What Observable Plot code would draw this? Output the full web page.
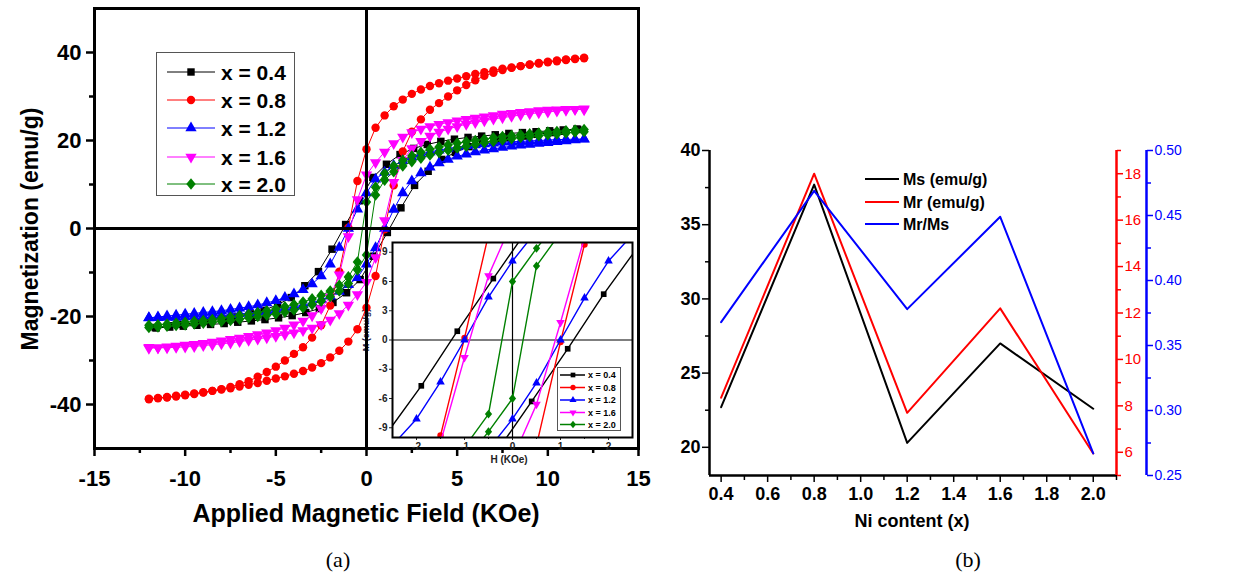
<!DOCTYPE html>
<html><head><meta charset="utf-8">
<script src="https://cdn.jsdelivr.net/npm/d3@7"></script>
<script src="https://cdn.jsdelivr.net/npm/@observablehq/plot@0.6"></script>
<style>
body{margin:0;background:#fff;}
#fig{position:relative;width:1255px;height:576px;overflow:hidden;background:#fff;font-family:Arial,"Liberation Sans",sans-serif;}
.abs{position:absolute;}
.abs svg{display:block;overflow:visible;max-width:none;}
</style></head><body><div id="fig"></div>
<script>
// ---------- Panel (a): descending branches (H from +12 to -12) ----------
const H_GRID = [12,11.5,11,10.5,10,9.5,9,8.5,8,7.5,7,6.5,6,5.5,5,4.5,4,3.5,3,2.5,2,1.5,1,0.5,0,-0.5,-1,-1.5,-2,-2.5,-3,-3.5,-4,-4.5,-5,-5.5,-6,-6.5,-7,-7.5,-8,-8.5,-9,-9.5,-10,-10.5,-11,-11.5,-12];
const H_X04 = [11.6,10.85,10.1,9.35,8.6,7.85,7.1,6.35,5.6,4.85,4.1,3.35,2.6,1.85,1.1,0.35,-0.4,-1.15,-1.9,-2.65,-3.4,-4.15,-4.9,-5.65,-6.4,-7.15,-7.9,-8.65,-9.4,-10.15,-10.9,-11.65];
const M_X04 = [22.6,22.4,22.2,22.0,21.8,21.6,21.3,21.0,20.7,20.3,19.8,19.1,18.2,16.8,14.6,11.6,6.3,0.9,-4.7,-9.8,-13.0,-15.7,-17.3,-18.6,-19.4,-20.1,-20.6,-21.0,-21.4,-21.8,-22.1,-22.5];
const M_X08 = [38.7,38.5,38.3,38.0,37.8,37.5,37.2,36.9,36.6,36.3,35.9,35.5,35.1,34.6,34.1,33.6,33.0,32.4,31.6,30.6,29.3,27.8,25.7,22.9,18.0,10.8,0.2,-9.8,-17.5,-22.0,-24.8,-27.0,-28.5,-30.0,-31.4,-32.6,-33.7,-34.7,-35.4,-36.0,-36.5,-36.9,-37.3,-37.6,-37.9,-38.2,-38.4,-38.6,-38.8];
const M_X12 = [20.35,20.3,20.25,20.2,20.1,20.0,19.9,19.8,19.7,19.6,19.4,19.2,19.0,18.8,18.5,18.2,17.8,17.4,16.9,16.2,15.4,14.3,12.8,11.2,8.1,4.4,0.0,-4.3,-8.1,-10.8,-12.6,-13.9,-14.9,-15.7,-16.4,-16.9,-17.4,-17.8,-18.1,-18.4,-18.7,-18.9,-19.1,-19.3,-19.5,-19.7,-19.9,-20.1,-20.3];
const M_X16 = [27.0,27.1,27.1,27.0,26.9,26.8,26.6,26.4,26.2,26.0,25.7,25.4,25.1,24.8,24.5,24.1,23.7,23.2,22.6,21.8,20.8,19.3,17.4,15.0,12.2,6.6,-1.8,-10.5,-15.5,-18.2,-19.8,-21.0,-21.9,-22.6,-23.2,-23.7,-24.1,-24.5,-24.9,-25.2,-25.5,-25.8,-26.1,-26.3,-26.5,-26.7,-26.9,-27.1,-27.2];
const M_X20 = [22.5,22.35,22.2,22.05,21.9,21.7,21.5,21.3,21.1,20.9,20.6,20.3,20.0,19.7,19.4,19.0,18.5,18.0,17.3,16.5,15.5,14.2,12.5,9.4,6.0,-7.6,-11.0,-12.9,-14.2,-15.2,-16.0,-16.7,-17.3,-17.8,-18.3,-18.7,-19.1,-19.5,-19.8,-20.1,-20.4,-20.7,-20.9,-21.1,-21.3,-21.5,-21.7,-21.9,-22.0];

const SERIES_LABELS = ["x = 0.4", "x = 0.8", "x = 1.2", "x = 1.6", "x = 2.0"];
const SERIES_COLORS = ["#000000", "#ff0000", "#0000ff", "#ff00ff", "#008000"];

const MAIN_X_TICKS = [-15,-10,-5,0,5,10,15];
const MAIN_X_MINOR = [-12.5,-7.5,-2.5,2.5,7.5,12.5];
const MAIN_Y_TICKS = [-40,-20,0,20,40];
const MAIN_Y_MINOR = [-30,-10,10,30];
const INSET_X_TICKS = [-2,-1,0,1,2];
const INSET_X_MINOR = [-1.5,-0.5,0.5,1.5];
const INSET_Y_TICKS = [-9,-6,-3,0,3,6,9];

// ---------- Panel (b) ----------
const NI_CONTENT = [0.4, 0.8, 1.2, 1.6, 2.0];
const MS_VALUES = [22.7, 37.7, 20.3, 27.0, 22.6];
const MR_VALUES = [8.35, 18.0, 7.7, 12.2, 5.95];
const MR_MS_RATIO = [0.368, 0.469, 0.378, 0.449, 0.267];
const B_LEGEND = ["Ms (emu/g)", "Mr (emu/g)", "Mr/Ms"];
const B_X_TICKS = [0.4,0.6,0.8,1.0,1.2,1.4,1.6,1.8,2.0];
const B_X_MINOR = [0.5,0.7,0.9,1.1,1.3,1.5,1.7,1.9,2.1];
const MS_TICKS = [20,25,30,35,40];
const MS_MINOR = [22.5,27.5,32.5,37.5];
const MR_TICKS = [6,8,10,12,14,16,18];
const MR_MINOR = [5,7,9,11,13,15,17,19];
const RATIO_TICKS = [0.25,0.30,0.35,0.40,0.45,0.50];
const RATIO_MINOR = [0.275,0.325,0.375,0.425,0.475];

// ---------- symbols ----------
const sqrt3 = Math.sqrt(3);
const triangleDown = {draw(ctx, size) {
  const y = -Math.sqrt(size / (sqrt3 * 3));
  ctx.moveTo(0, -y * 2); ctx.lineTo(-sqrt3 * y, y); ctx.lineTo(sqrt3 * y, y); ctx.closePath();
}};
const diamondWide = {draw(ctx, size) {
  const a = Math.sqrt(size / 2);
  ctx.moveTo(0, -a * 1.1); ctx.lineTo(a * 0.9, 0); ctx.lineTo(0, a * 1.1); ctx.lineTo(-a * 0.9, 0); ctx.closePath();
}};
const SERIES_SYMBOLS = [d3.symbolSquare, d3.symbolCircle, d3.symbolTriangle, triangleDown, diamondWide];

const branchesH = [H_X04, H_GRID, H_GRID, H_GRID, H_GRID];
const branchesM = [M_X04, M_X08, M_X12, M_X16, M_X20];
function loopRows(i) {
  const H = branchesH[i], M = branchesM[i], rows = [];
  H.forEach((h, k) => rows.push({H: h, M: M[k], branch: "down"}));
  H.forEach((h, k) => rows.push({H: -h, M: -M[k], branch: "up"}));
  return rows;
}
const LOOPS = SERIES_LABELS.map((_, i) => loopRows(i));

const fig = document.getElementById("fig");
function place(node, left, top) {
  const d = document.createElement("div");
  d.className = "abs"; d.style.left = left + "px"; d.style.top = top + "px";
  d.appendChild(node); fig.appendChild(d); return d;
}
function textDiv(txt, left, top, css) {
  const d = document.createElement("div");
  d.className = "abs"; d.textContent = txt;
  d.style.cssText += `left:${left}px;top:${top}px;white-space:nowrap;` + css;
  fig.appendChild(d); return d;
}
const FONT = "Arial, 'Liberation Sans', sans-serif";
const fmtHyphen = d => String(d);

// inset y label (under the main chart so the zero line crosses it)
textDiv("M (emu/g)", 366, 330, "transform:translate(-50%,-50%) rotate(-90deg);font:bold 9px Arial,'Liberation Sans',sans-serif;color:#1a1a4a;");

// ---------- main chart (a) ----------
const seriesMarks = (r, sw, clip) => LOOPS.flatMap((rows, i) => [
  Plot.line(rows, {x: "H", y: "M", z: "branch", stroke: SERIES_COLORS[i], strokeWidth: sw, clip}),
  Plot.dot(rows, {x: "H", y: "M", symbol: SERIES_SYMBOLS[i], fill: SERIES_COLORS[i], r, clip})
]);

const main = Plot.plot({
  width: 660, height: 540,
  marginLeft: 94, marginRight: 22, marginTop: 8, marginBottom: 92,
  x: {domain: [-15, 15]}, y: {domain: [-50, 50]},
  style: {fontFamily: FONT, fontWeight: "bold", fontSize: "22px", background: "transparent", color: "black", overflow: "visible"},
  marks: [
    Plot.axisX({ticks: MAIN_X_TICKS, tickSize: 8, tickPadding: 14, strokeWidth: 2.5, tickFormat: fmtHyphen, label: null}),
    Plot.axisX({ticks: MAIN_X_MINOR, tickSize: 5, strokeWidth: 2.5, tickFormat: () => "", label: null}),
    Plot.axisY({ticks: MAIN_Y_TICKS, tickSize: 8, tickPadding: 5, strokeWidth: 2.5, tickFormat: fmtHyphen, label: null}),
    Plot.axisY({ticks: MAIN_Y_MINOR, tickSize: 5, strokeWidth: 2.5, tickFormat: () => "", label: null}),
    ...seriesMarks(4.2, 1, false),
    Plot.ruleY([0], {strokeWidth: 3}),
    Plot.ruleX([0], {strokeWidth: 3}),
    Plot.frame({strokeWidth: 3})
  ]
});
place(main, 0, 0);

textDiv("Magnetization (emu/g)", 30, 229, "transform:translate(-50%,-50%) rotate(-90deg);font:bold 23px Arial,'Liberation Sans',sans-serif;");
textDiv("Applied Magnetic Field (KOe)", 366, 513, "transform:translate(-50%,-50%);font:bold 25px Arial,'Liberation Sans',sans-serif;");

// ---------- inset ----------
const inset = Plot.plot({
  width: 285, height: 230,
  marginLeft: 32, marginRight: 13, marginTop: 12, marginBottom: 23,
  x: {domain: [-2.5, 2.5]}, y: {domain: [-10, 10]},
  style: {fontFamily: FONT, fontWeight: "bold", fontSize: "10px", background: "transparent", color: "#222", overflow: "visible"},
  marks: [
    Plot.frame({fill: "white", stroke: null}),
    Plot.axisX({ticks: INSET_X_TICKS, tickSize: 3, tickPadding: 2, tickFormat: fmtHyphen, label: null}),
    Plot.axisX({ticks: INSET_X_MINOR, tickSize: 2, tickFormat: () => "", label: null}),
    Plot.axisY({ticks: INSET_Y_TICKS, tickSize: 3, tickPadding: 2, tickFormat: fmtHyphen, label: null}),
    Plot.ruleY([0], {stroke: "black", strokeWidth: 1.2}),
    Plot.ruleX([0], {stroke: "black", strokeWidth: 1.2}),
    ...seriesMarks(3.2, 1.4, true),
    Plot.frame({stroke: "black", strokeWidth: 2})
  ]
});
place(inset, 360, 230);
textDiv("H (KOe)", 509, 459, "transform:translate(-50%,-50%);font:bold 10px Arial,'Liberation Sans',sans-serif;color:#222;");

// ---------- legends for (a) ----------
function symbolLegend(left, top, w, h, rowsY, x0, x1, sx, tx, fs, area, lw) {
  const svg = d3.create("svg").attr("width", w).attr("height", h);
  svg.append("rect").attr("x", 0.5).attr("y", 0.5).attr("width", w - 1).attr("height", h - 1)
    .attr("fill", "white").attr("stroke", "#555").attr("stroke-width", 1);
  SERIES_LABELS.forEach((lab, i) => {
    const y = rowsY[i];
    svg.append("line").attr("x1", x0).attr("x2", x1).attr("y1", y).attr("y2", y)
      .attr("stroke", SERIES_COLORS[i]).attr("stroke-width", lw);
    svg.append("path").attr("transform", `translate(${sx},${y})`)
      .attr("d", d3.symbol().type(SERIES_SYMBOLS[i]).size(area)()).attr("fill", SERIES_COLORS[i]);
    svg.append("text").attr("x", tx).attr("y", y).attr("dy", "0.36em")
      .attr("font-family", FONT).attr("font-weight", "bold").attr("font-size", fs).text(lab);
  });
  place(svg.node(), left, top);
}
symbolLegend(156, 52, 139, 144, [20, 48, 76, 105, 132], 11, 59, 35, 65, 21, 55, 1);
symbolLegend(557, 367, 64, 64, [8, 20.5, 33, 45.5, 57.5], 3, 28, 16, 31, 9, 22, 1.5);

textDiv("(a)", 338, 560, "transform:translate(-50%,-50%);font:22px 'Liberation Serif','Times New Roman',serif;");

// ---------- panel (b): three overlaid charts sharing the x scale ----------
const B = NI_CONTENT.map((ni, i) => ({ni, ms: MS_VALUES[i], mr: MR_VALUES[i], ratio: MR_MS_RATIO[i]}));
const BDIM = {width: 595, height: 540, marginLeft: 49, marginRight: 139, marginTop: 150, marginBottom: 65};

const chartMs = Plot.plot({
  ...BDIM, x: {domain: [0.35, 2.1]}, y: {domain: [18.1, 40]},
  style: {fontFamily: FONT, fontWeight: "bold", fontSize: "18px", background: "transparent", color: "black", overflow: "visible"},
  marks: [
    Plot.axisY({ticks: MS_TICKS, tickSize: 7, tickPadding: 2, strokeWidth: 1.5, tickFormat: fmtHyphen, label: null}),
    Plot.axisY({ticks: MS_MINOR, tickSize: 4, strokeWidth: 1.5, tickFormat: () => "", label: null}),
    Plot.axisX({ticks: B_X_TICKS, tickSize: 7, tickPadding: 5, strokeWidth: 1.5, tickFormat: d3.format(".1f"), label: null}),
    Plot.axisX({ticks: B_X_MINOR, tickSize: 5, strokeWidth: 1.5, tickFormat: () => "", label: null}),
    Plot.ruleX([0.35], {strokeWidth: 2.5}),
    Plot.ruleY([18.1], {strokeWidth: 2.5}),
    Plot.line(B, {x: "ni", y: "ms", stroke: "black", strokeWidth: 2})
  ]
});
place(chartMs, 660, 0);

const chartMr = Plot.plot({
  ...BDIM, x: {domain: [0.35, 2.1], axis: null}, y: {domain: [5, 19]},
  style: {fontFamily: FONT, fontWeight: "normal", fontSize: "15px", background: "transparent", color: "red", overflow: "visible"},
  marks: [
    Plot.axisY({anchor: "right", ticks: MR_TICKS, tickSize: 6, tickPadding: 2, strokeWidth: 1.5, color: "red", tickFormat: fmtHyphen, label: null}),
    Plot.axisY({anchor: "right", ticks: MR_MINOR, tickSize: 4, strokeWidth: 1.5, color: "red", tickFormat: () => "", label: null}),
    Plot.ruleX([2.1], {stroke: "red", strokeWidth: 2.5}),
    Plot.line(B, {x: "ni", y: "mr", stroke: "red", strokeWidth: 2})
  ]
});
place(chartMr, 660, 0);

const chartRatio = Plot.plot({
  ...BDIM, x: {domain: [0.35, 2.1], axis: null}, y: {domain: [0.25, 0.50]},
  style: {fontFamily: FONT, fontWeight: "normal", fontSize: "14px", background: "transparent", color: "blue", overflow: "visible"},
  marks: [
    Plot.axisY({anchor: "right", dx: 30, ticks: RATIO_TICKS, tickSize: 6, tickPadding: 2, strokeWidth: 1.5, color: "blue", tickFormat: d3.format(".2f"), label: null}),
    Plot.axisY({anchor: "right", dx: 30, ticks: RATIO_MINOR, tickSize: 4, strokeWidth: 1.5, color: "blue", tickFormat: () => "", label: null}),
    Plot.ruleX([2.1], {dx: 30, stroke: "blue", strokeWidth: 2.5}),
    Plot.line(B, {x: "ni", y: "ratio", stroke: "blue", strokeWidth: 2})
  ]
});
place(chartRatio, 660, 0);

textDiv("Ni content (x)", 912, 521, "transform:translate(-50%,-50%);font:bold 18px Arial,'Liberation Sans',sans-serif;");

// legend (b)
(function () {
  const svg = d3.create("svg").attr("width", 170).attr("height", 70);
  const cols = ["black", "red", "blue"], ys = [11, 34, 56];
  B_LEGEND.forEach((lab, i) => {
    svg.append("line").attr("x1", 5).attr("x2", 39).attr("y1", ys[i]).attr("y2", ys[i]).attr("stroke", cols[i]).attr("stroke-width", 2);
    svg.append("text").attr("x", 43).attr("y", ys[i]).attr("dy", "0.36em").attr("font-family", FONT)
      .attr("font-weight", "bold").attr("font-size", 16).text(lab);
  });
  place(svg.node(), 860, 168);
})();

textDiv("(b)", 968, 560, "transform:translate(-50%,-50%);font:22px 'Liberation Serif','Times New Roman',serif;");
</script></body></html>
